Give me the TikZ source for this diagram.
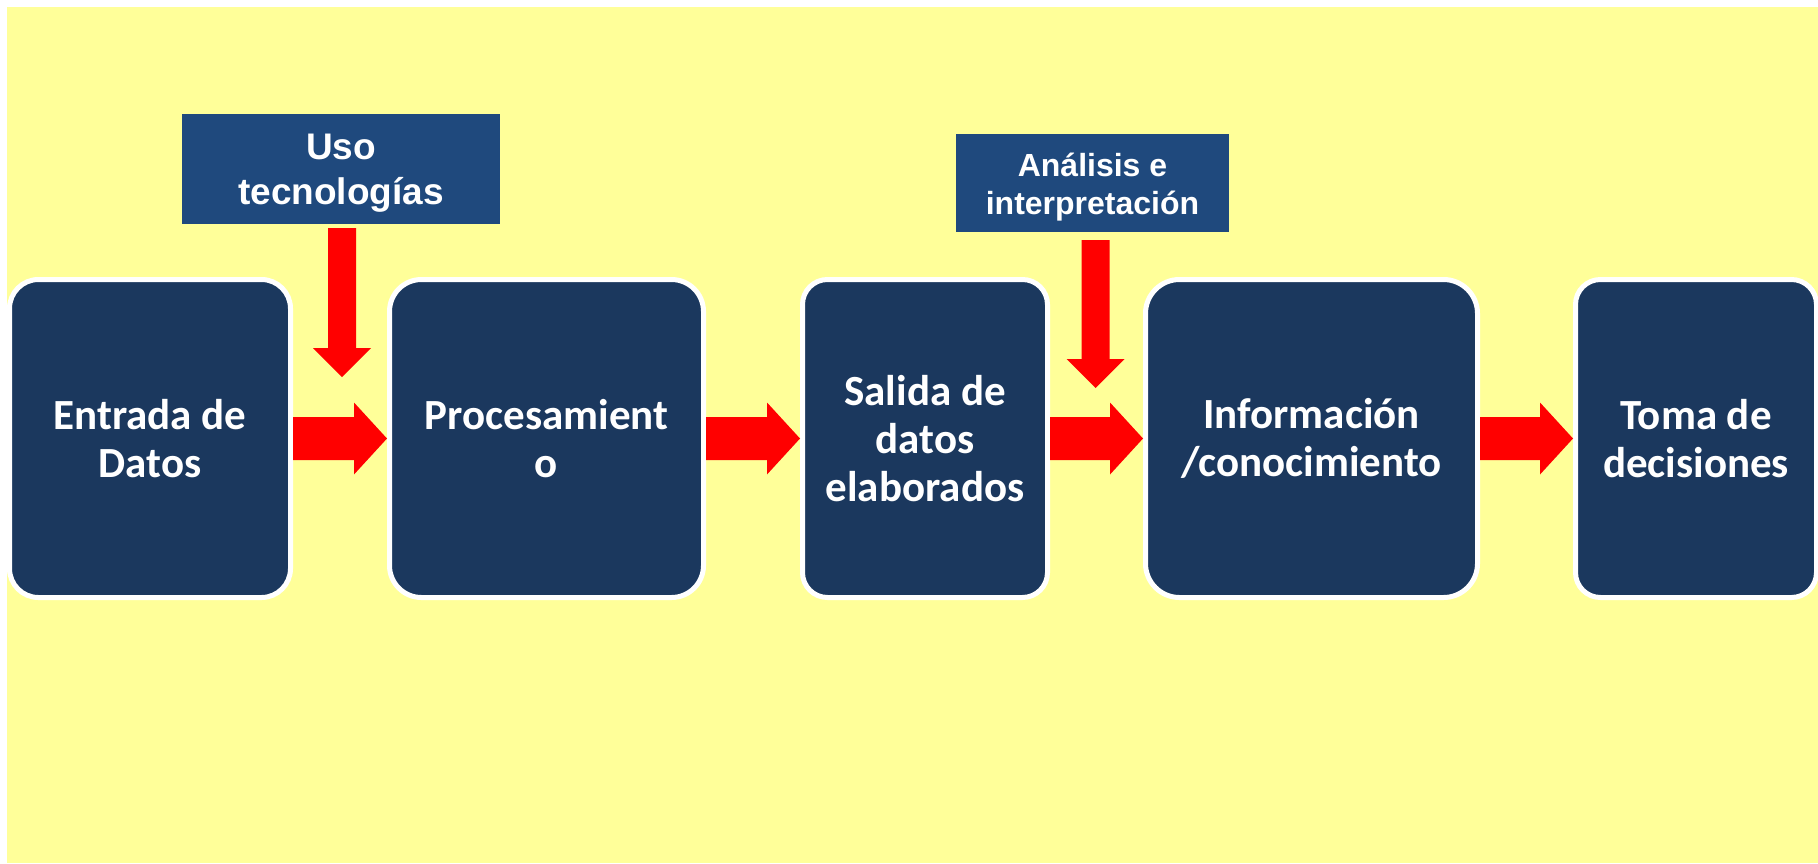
\documentclass[tikz,border=0pt]{standalone}
\usepackage{fontspec}
\setmainfont{Carlito}
\newfontfamily\arialfont{Liberation Sans}
\usetikzlibrary{calc}
\definecolor{bgyellow}{HTML}{FFFF99}
\definecolor{boxblue}{HTML}{1B385E}
\definecolor{topblue}{HTML}{1F497D}
\definecolor{arrowred}{HTML}{FF0000}
\tikzset{
  stagebox/.style={draw=white, line width=5pt, fill=boxblue, text=white,
    align=center, inner sep=0pt, minimum height=318pt,
    font=\bfseries\fontsize{43}{48}\selectfont},
  topbox/.style={fill=topblue, text=white, align=center, inner sep=0pt,
    font=\arialfont\bfseries},
  blockarrow/.style={fill=arrowred, draw=none}
}
% horizontal block arrow from node #1 to node #2
\newcommand\HArrow[2]{%
  \fill[blockarrow] let \p1=(#1.east), \p2=(#2.west) in
    (\x1,\y1+21.5pt) -- (\x2-33pt,\y1+21.5pt) -- (\x2-33pt,\y1+36pt) --
    (\x2,\y1) -- (\x2-33pt,\y1-36pt) -- (\x2-33pt,\y1-21.5pt) --
    (\x1,\y1-21.5pt) -- cycle;}
% vertical block arrow from node #1 (gap #3) down to coordinate #2
\newcommand\VArrow[3]{%
  \fill[blockarrow] let \p1=(#1.south), \p2=(#2) in
    (\x2-14pt,\y1-#3) -- (\x2+14pt,\y1-#3) -- (\x2+14pt,\y2+29pt) --
    (\x2+29pt,\y2+29pt) -- (\x2,\y2) -- (\x2-29pt,\y2+29pt) --
    (\x2-14pt,\y2+29pt) -- cycle;}
\begin{document}
\begin{tikzpicture}[x=1pt,y=-1pt]
\useasboundingbox (0,0) rectangle (1818,863);
\fill[bgyellow] (7,7) rectangle (1818,863);

\node[stagebox, minimum width=281pt, rounded corners=29pt] (entrada) at (150,438.5) {Entrada de\\Datos};
\node[stagebox, minimum width=314pt, rounded corners=32pt] (proc) at (546.5,438.5) {Procesamient\\o};
\node[stagebox, minimum width=245pt, rounded corners=25pt] (salida) at (925,438.5) {Salida de\\datos\\elaborados};
\node[stagebox, minimum width=332pt, rounded corners=34pt] (info) at (1311.5,438.5) {Información\\/conocimiento};
\node[stagebox, minimum width=241pt, rounded corners=25pt] (toma) at (1696,438.5) {Toma de\\decisiones};

\node[topbox, minimum width=318pt, minimum height=110pt, font=\arialfont\bfseries\fontsize{37}{45}\selectfont] (uso) at (341,169) {\rule{0pt}{34pt}Uso\\tecnologías};
\node[topbox, minimum width=273pt, minimum height=98pt, font=\arialfont\bfseries\fontsize{32}{38}\selectfont] (analisis) at (1092.5,183) {\rule{0pt}{31pt}Análisis e\\interpretación};

\coordinate (tipuso) at (342,377);
\coordinate (tipanalisis) at (1095.5,388);

\HArrow{entrada}{proc}
\HArrow{proc}{salida}
\HArrow{salida}{info}
\HArrow{info}{toma}
\VArrow{uso}{tipuso}{4pt}
\VArrow{analisis}{tipanalisis}{8pt}
\end{tikzpicture}
\end{document}
